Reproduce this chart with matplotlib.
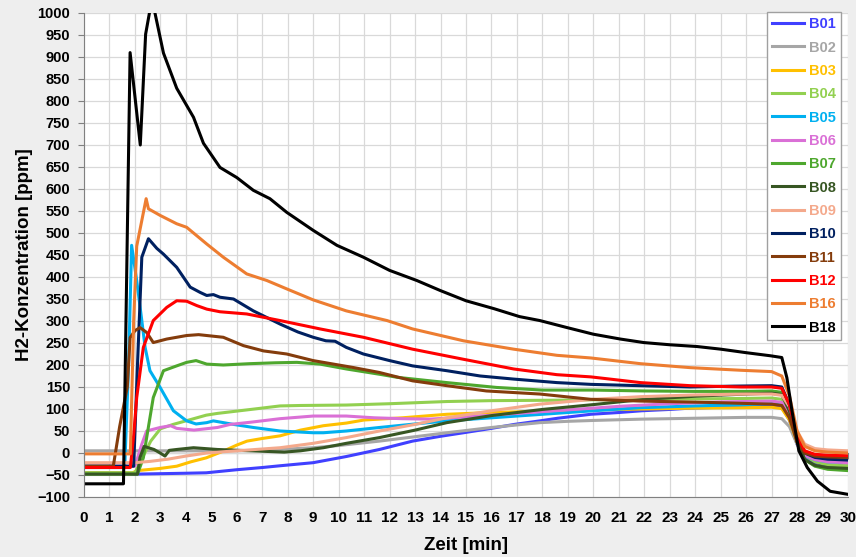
import matplotlib
matplotlib.use("Agg")
import matplotlib.pyplot as plt
from matplotlib.ticker import MultipleLocator

## data (time in min, H2 in ppm) ##
t_B01 = [0, 1.5, 2.0, 3.0, 4.0, 4.8, 6.0, 7.0, 7.7, 9.0, 10.3, 11.6, 12.9, 14.0, 14.9, 16.0, 16.9, 17.9, 18.6, 19.9, 21.0, 21.9, 23.0, 23.8, 25.0, 26.0, 27.0, 27.4, 27.7, 28.0, 28.3, 28.7, 29.2, 30]
v_B01 = [-45, -45, -48, -47, -46, -45, -38, -33, -29, -22, -8, 8, 27, 38, 46, 56, 65, 73, 79, 88, 92, 96, 99, 102, 104, 105, 106, 104, 75, 20, -10, -22, -27, -30]

t_B02 = [0, 2, 4, 6, 7, 7.7, 9.0, 10.0, 11.6, 13.0, 14.25, 16.0, 17.9, 19.0, 20.0, 21.9, 23.0, 24.0, 25.0, 26.0, 27.0, 27.4, 27.7, 28.0, 28.3, 28.7, 29.2, 30]
v_B02 = [5, 5, 5, 5, 6, 8, 12, 17, 27, 37, 46, 58, 69, 72, 74, 77, 78, 79, 80, 81, 81, 78, 60, 20, 0, -8, -12, -15]

t_B03 = [0, 1.9, 2.1, 3.0, 3.64, 4.2, 4.8, 5.5, 6.0, 6.4, 7.0, 7.7, 8.5, 9.4, 10.3, 11.0, 11.6, 12.5, 14.25, 16.0, 18.6, 20.0, 22.0, 24.0, 26.0, 27.0, 27.4, 27.7, 28.0, 28.3, 28.7, 29.2, 30]
v_B03 = [-45, -45, -40, -35, -30, -20, -11, 5, 18, 27, 33, 39, 52, 62, 68, 75, 77, 80, 88, 92, 96, 98, 100, 102, 103, 104, 101, 75, 25, -5, -15, -20, -23]

t_B04 = [0, 2.0, 2.3, 2.62, 3.0, 3.5, 4.0, 4.8, 5.24, 6.55, 7.7, 8.5, 10.3, 12.0, 14.25, 16.0, 18.6, 20.0, 22.0, 24.0, 26.0, 27.0, 27.4, 27.7, 28.0, 28.3, 28.7, 29.2, 30]
v_B04 = [-45, -45, -10, 27, 55, 65, 73, 86, 90, 99, 107, 108, 109, 112, 117, 119, 120, 121, 122, 123, 124, 125, 122, 90, 30, -5, -20, -27, -30]

t_B05 = [0, 1.6, 1.75, 1.87, 2.07, 2.27, 2.4, 2.59, 2.99, 3.51, 4.03, 4.4, 4.82, 5.08, 5.87, 6.65, 7.7, 9.0, 9.4, 10.3, 11.6, 13.0, 14.25, 16.0, 18.0, 20.0, 21.85, 24.0, 26.0, 27.0, 27.4, 27.7, 28.0, 28.3, 28.7, 29.2, 30]
v_B05 = [-33, -33, 200, 472, 392, 301, 240, 187, 149, 96, 73, 66, 69, 73, 65, 58, 50, 46, 46, 50, 58, 66, 73, 80, 88, 96, 103, 107, 110, 112, 109, 85, 30, -5, -15, -20, -22]

t_B06 = [0, 2.0, 2.27, 2.46, 2.99, 3.4, 3.64, 4.32, 5.24, 5.74, 6.55, 7.7, 9.0, 10.3, 11.4, 12.5, 13.6, 15.0, 17.0, 19.0, 21.0, 23.0, 25.0, 27.0, 27.4, 27.7, 28.0, 28.3, 28.7, 29.2, 30]
v_B06 = [-30, -30, 20, 50, 58, 62, 56, 52, 58, 65, 70, 78, 84, 84, 80, 78, 77, 82, 90, 98, 106, 112, 116, 118, 115, 85, 30, -5, -15, -20, -22]

t_B07 = [0, 2.1, 2.33, 2.72, 3.12, 3.64, 4.03, 4.4, 4.82, 5.47, 6.5, 7.5, 8.36, 9.27, 10.3, 11.6, 12.3, 14.25, 16.2, 18.0, 20.0, 22.0, 24.0, 26.0, 27.0, 27.4, 27.7, 28.0, 28.3, 28.7, 29.2, 30]
v_B07 = [-48, -48, -11, 126, 187, 198, 206, 210, 202, 200, 203, 205, 206, 202, 191, 179, 172, 160, 149, 143, 143, 141, 140, 140, 141, 138, 100, 30, -15, -30, -37, -40]

t_B08 = [0, 2.1, 2.2, 2.36, 2.75, 2.99, 3.18, 3.35, 3.64, 4.3, 5.24, 6.55, 7.86, 8.5, 9.4, 10.3, 11.6, 13.0, 14.25, 16.0, 18.0, 20.0, 22.0, 24.0, 26.0, 27.0, 27.4, 27.7, 28.0, 28.3, 28.7, 29.2, 30]
v_B08 = [-48, -48, -10, 15, 8, 0, -7, 6, 8, 12, 8, 5, 2, 5, 12, 22, 35, 52, 69, 85, 99, 110, 122, 129, 134, 136, 133, 95, 25, -15, -28, -33, -35]

t_B09 = [0, 2.0, 2.6, 3.3, 4.0, 4.82, 5.5, 6.5, 7.7, 9.0, 10.3, 11.6, 13.0, 14.25, 16.0, 17.9, 20.0, 21.85, 24.0, 26.0, 27.0, 27.4, 27.7, 28.0, 28.3, 28.7, 29.2, 30]
v_B09 = [-22, -22, -19, -14, -7, 0, 3, 7, 12, 22, 35, 50, 65, 80, 96, 111, 122, 128, 132, 134, 134, 131, 105, 50, 20, 10, 7, 5]

t_B10 = [0, 1.95, 2.1, 2.27, 2.53, 2.86, 3.12, 3.64, 4.17, 4.56, 4.82, 5.08, 5.34, 5.87, 6.65, 7.7, 8.4, 9.0, 9.5, 9.86, 10.3, 10.97, 12.0, 12.9, 14.25, 15.56, 16.87, 18.57, 19.9, 21.85, 23.8, 25.5, 27.0, 27.4, 27.7, 28.0, 28.3, 28.7, 29.2, 30]
v_B10 = [-30, -30, 200, 445, 487, 465, 452, 422, 377, 365, 358, 360, 354, 350, 323, 293, 275, 263, 255, 254, 240, 225, 210, 198, 187, 175, 168, 160, 156, 153, 150, 152, 153, 150, 110, 40, 0, -10, -14, -16]

t_B11 = [0, 1.15, 1.4, 1.7, 1.81, 2.0, 2.2, 2.46, 2.72, 3.25, 4.03, 4.5, 4.82, 5.47, 6.26, 7.05, 7.96, 9.0, 10.6, 11.6, 12.9, 14.25, 15.8, 17.9, 19.9, 21.85, 24.5, 27.0, 27.4, 27.7, 28.0, 28.3, 28.7, 29.2, 30]
v_B11 = [-30, -30, 60, 150, 262, 278, 285, 274, 251, 259, 267, 269, 267, 263, 244, 232, 225, 210, 194, 183, 164, 153, 141, 134, 122, 118, 115, 111, 108, 80, 25, 0, -7, -9, -10]

t_B12 = [0, 1.82, 1.95, 2.07, 2.33, 2.72, 3.25, 3.64, 4.03, 4.43, 4.82, 5.34, 6.39, 7.7, 9.27, 10.97, 12.9, 14.9, 16.87, 18.57, 19.9, 21.85, 23.8, 25.8, 27.0, 27.4, 27.7, 28.0, 28.3, 28.7, 29.2, 30]
v_B12 = [-33, -33, 40, 126, 240, 301, 331, 346, 345, 335, 327, 321, 316, 301, 282, 263, 236, 213, 191, 178, 173, 160, 153, 150, 150, 147, 110, 40, 5, -3, -5, -6]

t_B16 = [0, 1.82, 1.95, 2.07, 2.44, 2.53, 2.99, 3.64, 4.03, 4.82, 5.47, 6.39, 7.18, 7.96, 9.0, 10.3, 11.9, 12.9, 14.9, 16.87, 18.57, 19.9, 21.85, 23.8, 25.8, 27.0, 27.4, 27.7, 28.0, 28.3, 28.7, 29.2, 30]
v_B16 = [-2, -2, 300, 470, 578, 555, 540, 521, 513, 475, 445, 407, 392, 373, 348, 323, 301, 282, 255, 236, 222, 216, 203, 194, 188, 185, 175, 130, 50, 15, 5, 2, 0]

t_B18 = [0, 1.5, 1.55, 1.81, 2.21, 2.42, 2.6, 2.75, 3.12, 3.64, 4.3, 4.69, 5.34, 6.0, 6.65, 7.3, 7.96, 9.0, 9.93, 10.97, 12.0, 13.07, 14.0, 15.0, 16.1, 17.1, 17.9, 18.97, 20.0, 21.06, 21.98, 23.0, 24.07, 25.0, 26.0, 26.95, 27.4, 27.6, 27.8, 28.07, 28.4, 28.8, 29.3, 30]
v_B18 = [-70, -70, -70, 910, 700, 952, 1010, 1010, 909, 829, 763, 704, 649, 626, 597, 578, 547, 506, 472, 445, 415, 392, 369, 346, 328, 310, 301, 285, 270, 259, 251, 246, 242, 236, 228, 221, 217, 171, 96, 5, -33, -64, -87, -94]

names = ["B01", "B02", "B03", "B04", "B05", "B06", "B07", "B08", "B09", "B10", "B11", "B12", "B16", "B18"]
times = [t_B01, t_B02, t_B03, t_B04, t_B05, t_B06, t_B07, t_B08, t_B09, t_B10, t_B11, t_B12, t_B16, t_B18]
values = [v_B01, v_B02, v_B03, v_B04, v_B05, v_B06, v_B07, v_B08, v_B09, v_B10, v_B11, v_B12, v_B16, v_B18]
colors = ["#4040FF", "#A6A6A6", "#FFC000", "#92D050", "#00B0F0", "#DA70D6", "#4EA72E",
          "#375623", "#F4A98C", "#002060", "#843C0C", "#FF0000", "#ED7D31", "#000000"]

tickfont = ["Liberation Sans Narrow", "Liberation Sans", "DejaVu Sans"]
plt.rcParams['font.family'] = ["Liberation Sans", "DejaVu Sans"]

fig = plt.figure(figsize=(8.56, 5.57), dpi=100, facecolor="#EEEEEE")
ax = fig.add_axes([84/856, 1-497/557, 764/856, 484/557])
ax.set_facecolor("white")

for i in range(len(names)):
    ax.plot(times[i], values[i], color=colors[i], lw=2.2, label=names[i], solid_joinstyle="round")

ax.set_xlim(0, 30)
ax.set_ylim(-100, 1000)
ax.xaxis.set_major_locator(MultipleLocator(1))
ax.yaxis.set_major_locator(MultipleLocator(50))
ax.grid(True, color="#D9D9D9", lw=0.9)
ax.set_axisbelow(True)
for s in ["top", "right"]:
    ax.spines[s].set_visible(False)
for s in ["left", "bottom"]:
    ax.spines[s].set_color("#808080")
ax.tick_params(axis="y", length=4, color="#808080", pad=6, labelsize=10.5)
ax.tick_params(axis="x", length=0, pad=10, labelsize=11)
for lab in ax.get_yticklabels():
    lab.set_fontweight("bold")
for lab in ax.get_xticklabels():
    lab.set_fontweight("bold")
    lab.set_family(tickfont)

# horizontal axis line with tick marks at y = 0
sec = ax.secondary_xaxis(100/1100)
sec.xaxis.set_major_locator(MultipleLocator(1))
sec.tick_params(axis="x", length=4, color="#808080", labelbottom=False, labeltop=False, direction="out")
sec.spines["bottom"].set_color("#808080")

ax.set_xlabel("Zeit [min]", fontsize=13.5, fontweight="bold", labelpad=9)
ax.set_ylabel("H2-Konzentration [ppm]", fontsize=13.5, fontweight="bold", labelpad=3)

leg = ax.legend(loc="upper right", bbox_to_anchor=(1.0, 1.017), frameon=True, fancybox=False,
                edgecolor="#A0A0A0", framealpha=1, handlelength=2.2, handletextpad=0.3,
                labelspacing=0.64, borderpad=0.35, prop={"weight": "bold", "size": 10.5})
leg.get_frame().set_linewidth(1.0)
for txt, c in zip(leg.get_texts(), colors):
    txt.set_color(c)

fig.savefig("out.png", dpi=100, facecolor=fig.get_facecolor())
